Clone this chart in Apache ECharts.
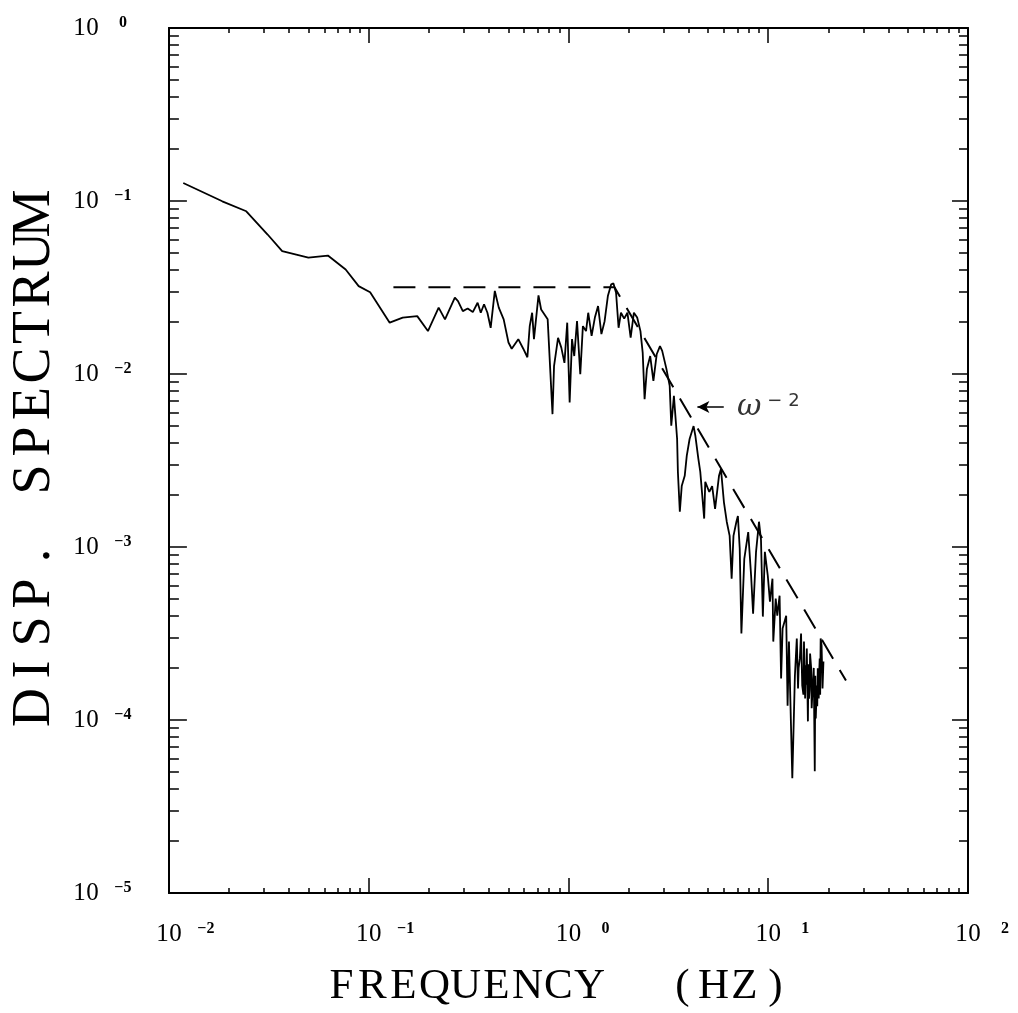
<!DOCTYPE html>
<html><head><meta charset="utf-8">
<script src="https://cdn.jsdelivr.net/npm/echarts@6/dist/echarts.min.js"></script>
<style>html,body{margin:0;padding:0;background:#fff;}#c{width:1018px;height:1013px;}</style>
</head><body><div id="c"></div>
<script>
// ---- data ----
const freq = [0.0118,0.0185,0.0244,0.0312,0.0369,0.0499,0.0625,0.0767,0.0891,0.1017,0.1274,0.148,0.175,0.198,0.224,0.241,
0.270,0.280,0.296,0.313,0.332,0.351,0.364,0.378,0.393,0.408,0.428,0.448,0.474,0.501,0.520,0.561,0.594,0.623,0.640,0.658,0.672,0.708,0.730,0.787,
0.832,0.847,0.887,0.921,0.955,0.986,1.014,1.042,1.069,1.104,1.146,1.181,1.225,1.256,1.306,1.356,1.407,1.462,1.517,1.575,1.637,1.680,1.731,1.782,1.832,1.901,1.973,
2.048,2.126,2.208,2.293,2.353,2.405,2.470,2.566,2.662,2.765,2.872,2.946,3.093,3.212,3.271,3.372,3.499,3.53,3.61,3.69,3.82,3.91,4.04,4.23,4.32,4.47,4.57,4.78,4.84,
5.07,5.24,5.42,5.67,5.80,6.00,6.20,6.41,6.56,6.70,6.93,7.05,7.20,7.34,7.59,7.94,8.21,8.40,8.69,8.99,9.20,9.40,9.62,9.95,10.2,10.5,10.6,10.9,11.1,11.4,11.6,11.8,
12.3,12.5,12.7,13.0,13.2,13.6,13.9,14.1,14.2,14.4,14.6,14.7,14.8,15.0,15.1,15.3,15.4,15.5,15.6,15.8,15.9,16.0,16.1,16.2,16.4,16.5,16.7,16.9,17.1,17.2,17.3,17.5,17.6,17.7,17.9,18.0,18.1,18.2,18.3,18.5,18.7,18.9];
const disp = [0.127,0.0996,0.0872,0.0640,0.0513,0.0470,0.0484,0.0402,0.0322,0.0297,0.0198,0.0212,0.0216,0.0177,0.0242,0.0207,
0.0276,0.0264,0.0231,0.0239,0.0228,0.0258,0.0226,0.0253,0.0226,0.0185,0.0302,0.0242,0.0207,0.0152,0.0140,0.0159,0.0140,0.0125,0.0189,0.0226,0.0159,0.0285,0.0236,0.0207,
0.00586,0.0111,0.0162,0.0142,0.0116,0.0198,0.00685,0.0159,0.0127,0.0202,0.00997,0.0189,0.0177,0.0226,0.0166,0.0212,0.0247,0.0170,0.0202,0.0282,0.0330,0.0334,0.0295,0.0185,0.0226,0.0209,0.0226,
0.0162,0.0226,0.0212,0.0177,0.0133,0.00716,0.0107,0.0127,0.00912,0.0130,0.0145,0.0136,0.0107,0.00854,0.00502,0.00748,0.00421,0.00272,0.00160,0.00225,0.00258,0.00336,0.00421,0.00500,0.00438,0.00323,0.00272,0.00146,0.00238,
0.00208,0.00225,0.00166,0.00258,0.00282,0.00182,0.00140,0.00116,0.000656,0.00116,0.00140,0.00151,0.000977,0.000316,0.000855,0.00122,0.000682,0.000412,0.000938,0.00140,0.00110,0.000396,0.000938,0.000682,0.000483,0.000656,0.000284,0.000503,0.000401,0.000523,0.000174,0.000338,
0.000401,0.000121,0.000284,0.0000931,0.0000461,0.000181,0.000296,0.000152,0.000200,0.000227,0.000316,0.000220,0.000158,0.000140,0.000284,0.000133,0.000207,0.000160,0.000259,0.0000982,0.000210,0.000133,0.000150,0.000242,0.000200,0.000117,0.000158,0.000200,0.0000505,0.000180,0.000102,0.000158,0.000120,0.000199,0.000133,0.000190,0.000227,0.000140,0.000296,0.000269,0.000152,0.000218];

const dashFreq = [0.133, 1.70, 24.5];
const dashDisp = [0.0317, 0.0317, 0.000169];

const arrowFrom = [5.99, 0.00644];
const arrowTo = [4.42, 0.00644];
const omegaAt = [6.93, 0.00644];
const omegaText = 'ω';
const omegaExp = '− 2';

const xTitle = 'FREQUENCY  (HZ)';
const yTitle = 'DISP. SPECTRUM';
const xDecades = [-2, -1, 0, 1, 2];
const yDecades = [-5, -4, -3, -2, -1, 0];

// minor tick positions (log10 space) at 2..9 x 10^k
const xMinorLog = [];
for (let k = -2; k < 2; k++) for (let m = 2; m <= 9; m++) xMinorLog.push(k + Math.log10(m));
const yMinorLog = [];
for (let k = -5; k < 0; k++) for (let m = 2; m <= 9; m++) yMinorLog.push(k + Math.log10(m));

function sup(e) { return e < 0 ? '−' + (-e) : String(e); }
function expOf(v) { return Math.round(Math.log10(v)); }

const labelRich = {
  p: { width: 34 },
  d: { fontFamily: 'Liberation Serif', fontSize: 25, width: 13, align: 'center', lineHeight: 26, padding: [7, 0, 0, 0], verticalAlign: 'bottom', color: '#000' },
  g: { width: 14 },
  s: { fontFamily: 'Liberation Serif', fontSize: 16, fontWeight: 'bold', width: 20, align: 'left', lineHeight: 14, verticalAlign: 'top', color: '#000' }
};
function mono(str) { return str.split('').map(ch => '{c|' + ch + '}').join(''); }

const black = '#000';
const noLine = { show: false, onZero: false };
const chart = echarts.init(document.getElementById('c'), null, { renderer: 'canvas' });

const option = {
  animation: false,
  backgroundColor: '#fff',
  grid: { left: 159, top: 28, width: 818, height: 867, containLabel: false },
  xAxis: [
    { type: 'log', logBase: 10, min: 0.01, max: 100, position: 'bottom',
      axisLine: { show: true, onZero: false, lineStyle: { color: black, width: 2 } },
      axisTick: { show: true, inside: true, length: 15, lineStyle: { color: black, width: 1.5 } },
      axisLabel: { show: true, margin: 28, formatter: v => '{p|}{d|1}{d|0}{g|}{s|' + sup(expOf(v)) + '}', rich: labelRich },
      splitLine: { show: false }, minorTick: { show: false },
      name: mono(xTitle), nameLocation: 'middle', nameGap: 72,
      nameTextStyle: { padding: [0, 20, 0, 0], rich: { c: { fontFamily: 'Liberation Serif', fontSize: 43, width: 31, align: 'center', color: black } } } },
    { type: 'value', min: -2, max: 2, position: 'bottom',
      axisLine: noLine, axisLabel: { show: false }, splitLine: { show: false },
      axisTick: { show: true, inside: true, length: 5, customValues: xMinorLog, lineStyle: { color: black, width: 1.5 } } },
    { type: 'value', min: -2, max: 2, position: 'top',
      axisLine: { show: true, onZero: false, lineStyle: { color: black, width: 2 } }, axisLabel: { show: false }, splitLine: { show: false },
      axisTick: { show: true, inside: true, length: 15, customValues: xDecades, lineStyle: { color: black, width: 1.5 } } },
    { type: 'value', min: -2, max: 2, position: 'top',
      axisLine: noLine, axisLabel: { show: false }, splitLine: { show: false },
      axisTick: { show: true, inside: true, length: 5, customValues: xMinorLog, lineStyle: { color: black, width: 1.5 } } }
  ],
  yAxis: [
    { type: 'log', logBase: 10, min: 0.00001, max: 1, position: 'left',
      axisLine: { show: true, onZero: false, lineStyle: { color: black, width: 2 } },
      axisTick: { show: true, inside: true, length: 18, lineStyle: { color: black, width: 1.5 } },
      axisLabel: { show: true, margin: 36, align: 'right', formatter: v => '{d|1}{d|0}{g|}{s|' + sup(expOf(v)) + '}', rich: labelRich },
      splitLine: { show: false }, minorTick: { show: false },
      name: mono(yTitle), nameLocation: 'middle', nameGap: 97,
      nameTextStyle: { rich: { c: { fontFamily: 'Liberation Serif', fontSize: 54, width: 38, align: 'center', color: black } } } },
    { type: 'value', min: -5, max: 0, position: 'left',
      axisLine: noLine, axisLabel: { show: false }, splitLine: { show: false },
      axisTick: { show: true, inside: true, length: 10, customValues: yMinorLog, lineStyle: { color: black, width: 1.5 } } },
    { type: 'value', min: -5, max: 0, position: 'right',
      axisLine: { show: true, onZero: false, lineStyle: { color: black, width: 2 } }, axisLabel: { show: false }, splitLine: { show: false },
      axisTick: { show: true, inside: true, length: 16, customValues: yDecades, lineStyle: { color: black, width: 1.5 } } },
    { type: 'value', min: -5, max: 0, position: 'right',
      axisLine: noLine, axisLabel: { show: false }, splitLine: { show: false },
      axisTick: { show: true, inside: true, length: 9, customValues: yMinorLog, lineStyle: { color: black, width: 1.5 } } }
  ],
  series: [
    { type: 'line', name: 'spectrum', xAxisIndex: 0, yAxisIndex: 0, showSymbol: false, silent: true,
      lineStyle: { color: black, width: 1.8 }, data: freq.map((f, i) => [f, disp[i]]) },
    { type: 'line', name: 'omega-2', xAxisIndex: 0, yAxisIndex: 0, showSymbol: false, silent: true,
      lineStyle: { color: black, width: 2, type: [22, 13] }, data: dashFreq.map((f, i) => [f, dashDisp[i]]) },
    { type: 'scatter', name: 'note', xAxisIndex: 0, yAxisIndex: 0, silent: true, symbolSize: 1,
      itemStyle: { color: 'rgba(0,0,0,0)' },
      label: { show: true, position: 'right', distance: 0,
        formatter: '{w|' + omegaText + '}{e|' + omegaExp + '}',
        rich: { w: { fontFamily: 'DejaVu Serif', fontStyle: 'italic', fontSize: 30, lineHeight: 30, verticalAlign: 'bottom', color: black },
                e: { fontFamily: 'DejaVu Sans', fontSize: 18, lineHeight: 18, verticalAlign: 'top', padding: [0, 0, 0, 6], color: black } } },
      data: [omegaAt],
      markLine: { silent: true, symbol: ['none', 'arrow'], symbolSize: [9, 12], label: { show: false },
        lineStyle: { color: black, width: 1.5, type: 'solid' },
        data: [[{ coord: arrowFrom }, { coord: arrowTo }]] } }
  ]
};
chart.setOption(option);
</script></body></html>
